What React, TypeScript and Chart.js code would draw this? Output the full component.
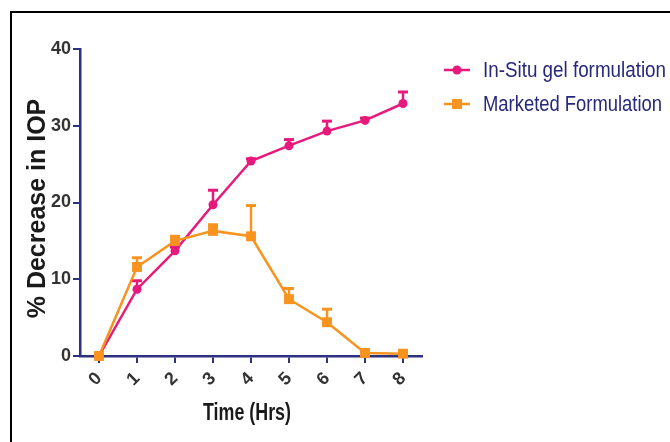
import React, { useEffect, useRef } from "react";
import { Chart, registerables } from "chart.js";

Chart.register(...registerables);

// ---- data ----
const timeLabels = ["0", "1", "2", "3", "4", "5", "6", "7", "8"];
const inSituValues = [0, 8.7, 13.7, 19.7, 25.4, 27.4, 29.3, 30.7, 32.9];
const inSituErrors = [0, 1.1, 0.5, 1.9, 0.3, 0.8, 1.3, 0.3, 1.5];
const marketedValues = [0, 11.6, 15.0, 16.3, 15.6, 7.4, 4.4, 0.4, 0.3];
const marketedErrors = [0, 1.2, 0.6, 0.8, 4.0, 1.4, 1.7, 0.3, 0.2];
const yTickValues = [0, 10, 20, 30, 40];
const seriesNames = ["In-Situ gel formulation", "Marketed Formulation"];
const xTitle = "Time (Hrs)";
const yTitle = "% Decrease in IOP";

// ---- style ----
const FONT = "'Liberation Sans', Arial, sans-serif";
const PINK = "#E8197C";
const ORANGE = "#F7931E";
const NAVY = "#2E3180";
const TICK_TEXT = "#333333";
const LEGEND_TEXT = "#27287A";

const errorBarPlugin = {
  id: "errorBars",
  beforeDatasetsDraw(chart: any) {
    const ctx = chart.ctx;
    const yScale = chart.scales.y;
    chart.data.datasets.forEach((ds: any, i: number) => {
      const meta = chart.getDatasetMeta(i);
      const errs: number[] = ds.errors || [];
      meta.data.forEach((pt: any, j: number) => {
        const e = errs[j];
        if (!e) return;
        const v = ds.data[j];
        const y0 = yScale.getPixelForValue(v);
        const y1 = yScale.getPixelForValue(v + e);
        ctx.save();
        ctx.strokeStyle = ds.borderColor;
        ctx.lineWidth = 2.5;
        ctx.beginPath();
        ctx.moveTo(pt.x, y0);
        ctx.lineTo(pt.x, y1);
        ctx.stroke();
        ctx.lineWidth = 3;
        ctx.beginPath();
        ctx.moveTo(pt.x - 5, y1);
        ctx.lineTo(pt.x + 5, y1);
        ctx.stroke();
        ctx.restore();
      });
    });
  },
};

const textPlugin = {
  id: "customText",
  afterDraw(chart: any) {
    const ctx = chart.ctx;
    const area = chart.chartArea;
    // x axis title (condensed to match narrow face)
    ctx.save();
    ctx.fillStyle = "#1a1a1a";
    ctx.font = `bold 23px ${FONT}`;
    ctx.textAlign = "center";
    ctx.textBaseline = "middle";
    ctx.fillText(xTitle, (area.left + area.right) / 2 - 4, 414, 88);
    ctx.restore();

    // y axis title
    ctx.save();
    ctx.translate(38, (area.top + area.bottom) / 2 + 6);
    ctx.rotate(-Math.PI / 2);
    ctx.fillStyle = "#1a1a1a";
    ctx.font = `bold 25px ${FONT}`;
    ctx.textAlign = "center";
    ctx.textBaseline = "middle";
    ctx.fillText(yTitle, 0, 0);
    ctx.restore();

    // legend
    const x0 = 444;
    const x1 = 470;
    const xm = 457;
    const rows = [70, 104];
    const widths = [183, 179];
    chart.data.datasets.forEach((ds: any, i: number) => {
      const y = rows[i];
      ctx.save();
      ctx.strokeStyle = ds.borderColor;
      ctx.fillStyle = ds.borderColor;
      ctx.lineWidth = 2.5;
      ctx.beginPath();
      ctx.moveTo(x0, y);
      ctx.lineTo(x1, y);
      ctx.stroke();
      if (ds.pointStyle === "rect") {
        ctx.fillRect(xm - 5, y - 5, 10, 10);
      } else {
        ctx.beginPath();
        ctx.arc(xm, y, 4.5, 0, Math.PI * 2);
        ctx.fill();
      }
      ctx.fillStyle = LEGEND_TEXT;
      ctx.font = `22px ${FONT}`;
      ctx.textBaseline = "middle";
      ctx.textAlign = "left";
      ctx.fillText(ds.label, 483, y + 1, widths[i]);
      ctx.restore();
    });
  },
};

export default function App() {
  const canvasRef = useRef<HTMLCanvasElement | null>(null);

  useEffect(() => {
    const canvas = canvasRef.current;
    if (!canvas) return;
    const chart = new Chart(canvas, {
      type: "line",
      data: {
        labels: timeLabels,
        datasets: [
          {
            label: seriesNames[0],
            data: inSituValues,
            errors: inSituErrors,
            borderColor: PINK,
            backgroundColor: PINK,
            borderWidth: 2.5,
            pointStyle: "circle",
            pointRadius: 4.5,
            pointBorderWidth: 0,
            tension: 0,
            clip: false,
            order: 2,
          } as any,
          {
            label: seriesNames[1],
            data: marketedValues,
            errors: marketedErrors,
            borderColor: ORANGE,
            backgroundColor: ORANGE,
            borderWidth: 2.5,
            pointStyle: "rect",
            pointRadius: 7,
            pointBorderWidth: 0,
            tension: 0,
            clip: false,
            order: 1,
          } as any,
        ],
      },
      options: {
        animation: false,
        responsive: false,
        maintainAspectRatio: false,
        devicePixelRatio: 1,
        layout: { padding: { left: 0, top: 49, right: 248, bottom: 0 } },
        plugins: {
          legend: { display: false },
          tooltip: { enabled: false },
        },
        scales: {
          x: {
            type: "category",
            offset: true,
            grid: {
              drawOnChartArea: false,
              drawTicks: true,
              tickLength: 7,
              color: NAVY,
              lineWidth: 2,
            },
            border: { color: NAVY, width: 2.5 },
            ticks: {
              minRotation: 45,
              maxRotation: 45,
              color: TICK_TEXT,
              padding: 5,
              font: { family: FONT, size: 18, weight: "bold" },
            },
            title: { display: false, text: xTitle },
            afterFit(scale: any) {
              scale.height = 86;
            },
          },
          y: {
            type: "linear",
            min: 0,
            max: 40,
            grid: {
              drawOnChartArea: false,
              drawTicks: true,
              tickLength: 7,
              color: NAVY,
              lineWidth: 2,
            },
            border: { color: NAVY, width: 2.5 },
            afterBuildTicks(scale: any) {
              scale.ticks = yTickValues.map((v) => ({ value: v }));
            },
            ticks: {
              color: TICK_TEXT,
              padding: 2,
              font: { family: FONT, size: 18, weight: "bold" },
            },
            title: { display: false, text: yTitle },
            afterFit(scale: any) {
              scale.width = 80;
            },
          },
        },
      } as any,
      plugins: [errorBarPlugin, textPlugin],
    });
    return () => chart.destroy();
  }, []);

  return (
    <div style={{ position: "fixed", left: 0, top: 0, width: 670, height: 442, background: "#ffffff" }}>
      <div
        style={{
          position: "absolute",
          left: 10,
          top: 11,
          width: 670,
          height: 442,
          borderTop: "2px solid #000",
          borderLeft: "2px solid #000",
          boxSizing: "border-box",
        }}
      />
      <canvas
        ref={canvasRef}
        width={670}
        height={442}
        style={{ position: "absolute", left: 0, top: 0, width: 670, height: 442 }}
      />
    </div>
  );
}
